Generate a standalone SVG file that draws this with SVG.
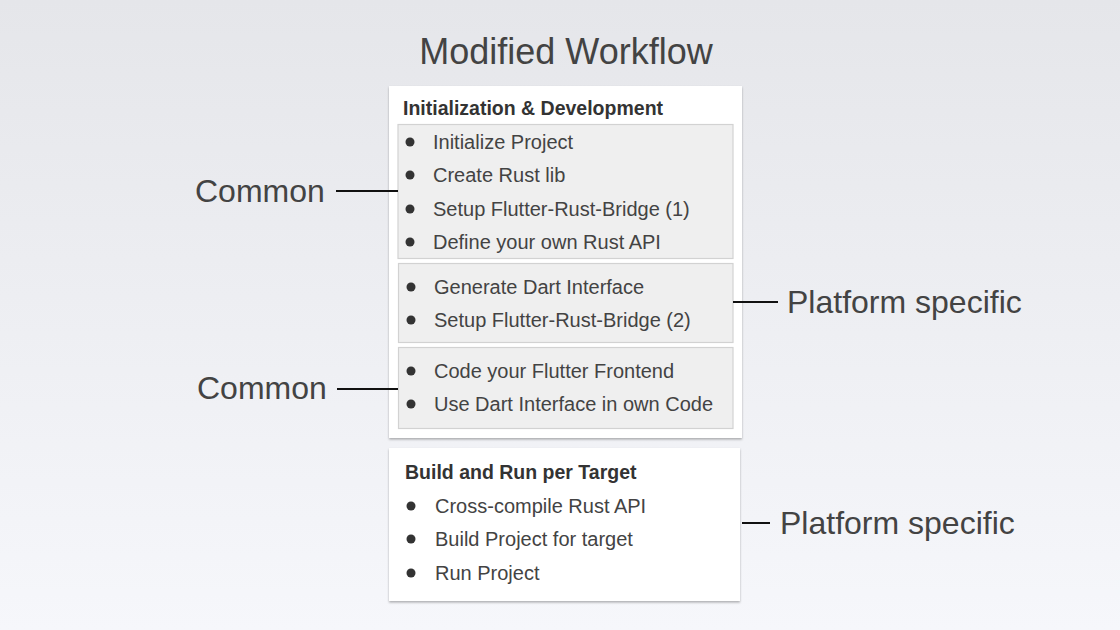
<svg xmlns="http://www.w3.org/2000/svg" width="1120" height="630" viewBox="0 0 1120 630">
<defs>
<linearGradient id="bg" x1="0" y1="0" x2="0" y2="1">
<stop offset="0" stop-color="#e5e6ea"/>
<stop offset="1" stop-color="#f6f7fb"/>
</linearGradient>
<filter id="sh" x="-5%" y="-5%" width="110%" height="110%">
<feDropShadow dx="0" dy="1.5" stdDeviation="1.2" flood-color="#000" flood-opacity="0.3"/>
</filter>
</defs>
<style>
.card{fill:#ffffff;filter:url(#sh)}
.sub{fill:#efefef;stroke:#d2d2d2;stroke-width:1.2}
.t{font-family:"Liberation Sans",Arial,sans-serif;fill:#434343}
.h{font-family:"Liberation Sans",Arial,sans-serif;font-weight:bold;font-size:19.5px;fill:#333}
.it{font-size:20px}
.lab{font-size:32px}
.b{fill:#333}
.ln{stroke:#111;stroke-width:2;fill:none}
</style>
<rect width="1120" height="630" fill="url(#bg)"/>
<text class="t" x="566" y="64" font-size="36" text-anchor="middle">Modified Workflow</text>
<g id="init">
<rect class="card" x="389" y="86" width="353" height="352"/>
<text class="h" x="403" y="115">Initialization &amp; Development</text>
<g id="common1">
<rect class="sub" x="398" y="124.5" width="335" height="134"/>
<circle class="b" cx="410" cy="142" r="4.5"/><text class="t it" x="433" y="149">Initialize Project</text>
<circle class="b" cx="410" cy="175" r="4.5"/><text class="t it" x="433" y="182">Create Rust lib</text>
<circle class="b" cx="410" cy="209" r="4.5"/><text class="t it" x="433" y="216">Setup Flutter-Rust-Bridge (1)</text>
<circle class="b" cx="410" cy="242" r="4.5"/><text class="t it" x="433" y="249">Define your own Rust API</text>
</g>
<g id="platform1">
<rect class="sub" x="398.5" y="263.5" width="334.5" height="79"/>
<circle class="b" cx="411" cy="287" r="4.5"/><text class="t it" x="434" y="294">Generate Dart Interface</text>
<circle class="b" cx="411" cy="320" r="4.5"/><text class="t it" x="434" y="327">Setup Flutter-Rust-Bridge (2)</text>
</g>
<g id="common2">
<rect class="sub" x="398.5" y="347.5" width="334.5" height="81"/>
<circle class="b" cx="411" cy="371" r="4.5"/><text class="t it" x="434" y="378">Code your Flutter Frontend</text>
<circle class="b" cx="411" cy="404" r="4.5"/><text class="t it" x="434" y="411">Use Dart Interface in own Code</text>
</g>
</g>
<g id="build">
<rect class="card" x="389" y="448" width="351" height="153"/>
<text class="h" x="405" y="479">Build and Run per Target</text>
<circle class="b" cx="411" cy="506" r="4.5"/><text class="t it" x="435" y="513">Cross-compile Rust API</text>
<circle class="b" cx="411" cy="539" r="4.5"/><text class="t it" x="435" y="546">Build Project for target</text>
<circle class="b" cx="411" cy="573" r="4.5"/><text class="t it" x="435" y="580">Run Project</text>
</g>
<g id="label-common1"><text class="t lab" x="195" y="202">Common</text></g>
<g id="label-common2"><text class="t lab" x="197" y="399">Common</text></g>
<g id="label-platform1"><text class="t lab" x="787" y="313">Platform specific</text></g>
<g id="label-platform2"><text class="t lab" x="780" y="534">Platform specific</text></g>
<g id="connectors">
<line class="ln" x1="336" y1="191" x2="398" y2="191"/>
<line class="ln" x1="337" y1="389" x2="398" y2="389"/>
<line class="ln" x1="733" y1="302" x2="778" y2="302"/>
<line class="ln" x1="742" y1="523" x2="770" y2="523"/>
</g>
</svg>
